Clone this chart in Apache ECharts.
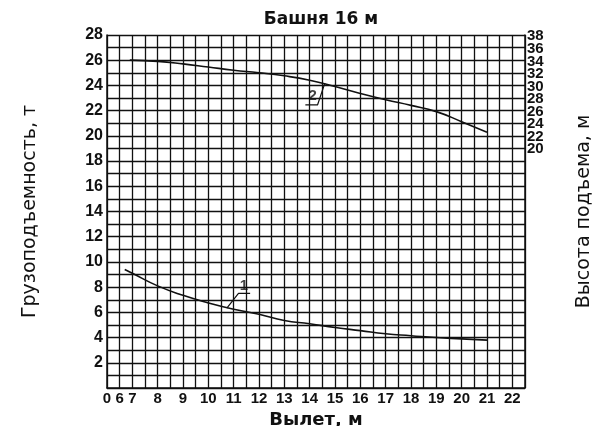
<!DOCTYPE html>
<html>
<head>
<meta charset="utf-8">
<script src="https://cdn.jsdelivr.net/npm/echarts@6/dist/echarts.min.js"></script>
<style>
html, body { margin: 0; padding: 0; background: #fff; }
#chart { width: 596px; height: 426px; }
</style>
</head>
<body>
<div id="chart"></div>
<script>
// кривая 1 - грузоподъемность, т (левая ось)
var radius1 = [6.7, 7, 8, 9, 10, 11, 12, 13, 14, 15, 16, 17, 18, 19, 20, 21];
var load1 = [9.4, 9.1, 8.1, 7.35, 6.75, 6.25, 5.85, 5.35, 5.1, 4.8, 4.55, 4.3, 4.15, 4.0, 3.9, 3.8];
// кривая 2 - высота подъема, м (правая ось)
var radius2 = [6.9, 8, 9, 10, 11, 12, 13, 14, 15, 16, 17, 18, 19, 20, 21];
var height2 = [34.2, 34.0, 33.6, 33.1, 32.6, 32.2, 31.7, 31.0, 30.0, 28.9, 27.9, 27.0, 26.0, 24.4, 22.7];
// выноски с номерами кривых (в единицах левой оси)
var leader1 = [[10.73, 6.33], [11.19, 7.5], [11.65, 7.5]];
var leader2 = [[14.6, 24.18], [14.31, 22.45], [13.83, 22.45]];
var tag1 = [11.4, 8.1];
var tag2 = [14.12, 23.15];

function pairs(xs, ys) {
  var out = [];
  for (var i = 0; i < xs.length; i++) out.push([xs[i], ys[i]]);
  return out;
}

var font = "Liberation Sans, Arial, sans-serif";
var wide = "DejaVu Sans, sans-serif";
var chart = echarts.init(document.getElementById("chart"));
var option = {
  animation: false,
  title: {
    text: "Башня 16 м",
    left: 316, top: 6, textAlign: "center",
    textStyle: { fontFamily: wide, fontSize: 17, fontWeight: "bold", color: "#111" }
  },
  grid: { left: 107, right: 71, top: 35, bottom: 38, outerBoundsMode: "none", containLabel: false },
  xAxis: {
    type: "value", min: 6, max: 22.5, interval: 0.5,
    name: "Вылет, м", nameLocation: "middle", nameGap: 23,
    nameTextStyle: { fontFamily: wide, fontSize: 18, fontWeight: "bold", color: "#111" },
    axisLine: { lineStyle: { color: "#111", width: 1.5 } },
    axisTick: { show: false },
    axisLabel: {
      margin: 3, fontFamily: font, fontSize: 15, fontWeight: "bold", color: "#111",
      showMinLabel: true, showMaxLabel: false,
      formatter: function (v) {
        if (v === 6) return "0";
        if (v === 6.5) return "6";
        if (v >= 7 && v % 1 === 0) return String(v);
        return "";
      }
    },
    splitLine: { show: true, lineStyle: { color: "#111", width: 1.3 } }
  },
  yAxis: [{
    type: "value", min: 0, max: 28, interval: 1,
    name: "Грузоподъемность, т", nameLocation: "middle", nameGap: 67, nameRotate: 90,
    nameTextStyle: { fontFamily: wide, fontSize: 19, color: "#111" },
    axisLine: { show: true, lineStyle: { color: "#111", width: 1.5 } },
    axisTick: { show: false },
    axisLabel: {
      margin: 4, fontFamily: font, fontSize: 16, fontWeight: "bold", color: "#111",
      formatter: function (v) { return (v > 0 && v % 2 === 0) ? String(v) : ""; }
    },
    splitLine: { show: true, lineStyle: { color: "#111", width: 1.3 } }
  }, {
    type: "value", min: -18, max: 38.2, interval: 2, position: "right",
    name: "Высота подъема, м", nameLocation: "middle", nameGap: 50, nameRotate: 90,
    nameTextStyle: { fontFamily: wide, fontSize: 19, color: "#111" },
    axisLine: { show: true, lineStyle: { color: "#111", width: 1.5 } },
    axisTick: { show: false },
    axisLabel: {
      margin: 2, fontFamily: "Liberation Sans Narrow, Liberation Sans, sans-serif",
      fontSize: 15, fontWeight: "bold", color: "#111",
      formatter: function (v) { return (v >= 20 && v % 2 === 0) ? String(v) : ""; }
    },
    splitLine: { show: false }
  }],
  series: [{
    type: "line", yAxisIndex: 0, data: pairs(radius1, load1),
    smooth: true, showSymbol: false, lineStyle: { color: "#111", width: 1.6 }
  }, {
    type: "line", yAxisIndex: 1, data: pairs(radius2, height2),
    smooth: true, showSymbol: false, lineStyle: { color: "#111", width: 1.6 }
  }, {
    type: "line", yAxisIndex: 0, data: leader1,
    showSymbol: false, lineStyle: { color: "#111", width: 1.2 }
  }, {
    type: "line", yAxisIndex: 0, data: leader2,
    showSymbol: false, lineStyle: { color: "#111", width: 1.2 }
  }, {
    type: "scatter", yAxisIndex: 0, symbolSize: 0,
    data: [{ value: tag1, name: "1" }, { value: tag2, name: "2" }],
    label: {
      show: true, position: "inside", formatter: "{b}",
      fontFamily: font, fontSize: 15, fontWeight: "bold", color: "#111"
    }
  }]
};
chart.setOption(option);
</script>
</body>
</html>
